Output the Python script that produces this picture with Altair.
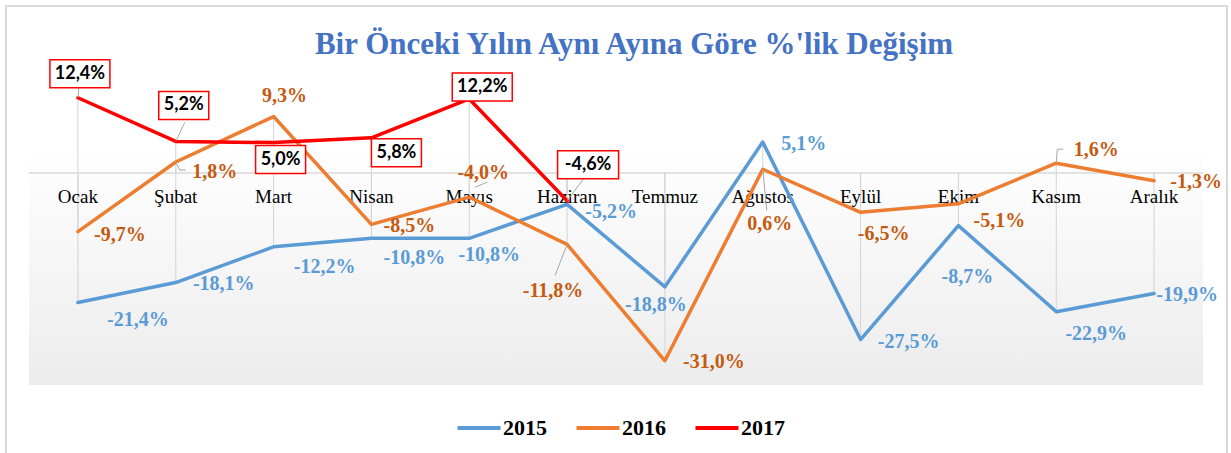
import altair as alt
import pandas as pd

months = ["Ocak", "Şubat", "Mart", "Nisan", "Mayıs", "Haziran", "Temmuz",
          "Ağustos", "Eylül", "Ekim", "Kasım", "Aralık"]
years = ["2015", "2016", "2017"]
v2015 = [-21.4, -18.1, -12.2, -10.8, -10.8, -5.2, -18.8, 5.1, -27.5, -8.7, -22.9, -19.9]
v2016 = [-9.7, 1.8, 9.3, -8.5, -4.0, -11.8, -31.0, 0.6, -6.5, -5.1, 1.6, -1.3]
v2017 = [12.4, 5.2, 5.0, 5.8, 12.2, -4.6]
title_text = "Bir Önceki Yılın Aynı Ayına Göre %'lik Değişim"

# label offsets in pixels (style)
dx2015 = [60, 48, 51, 43, 20, 44, -9, 41, 48, 9, 40, 33]
dy2015 = [17, 1, 20, 20, 17, 8, 18, 2, 2, 51, 22, 2]
dx2016 = [42, 39, 11, 38, 14, -14, 49, 7, 23, 41, 40, 42]
dy2016 = [3, 10, -21, 2, -24, 47, 1, 55, 22, 17, -13, 1]
dx2017 = [2, 8, 7, 25, 13, 21]
dy2017 = [-24, -36, 17, 15, -12, -36]
box_w2017 = [60, 50, 50, 50, 60, 61]
BOX_H = 28

line_colors = ["#5B9BD5", "#ED7D31", "#FF0000"]
label_colors = {"2015": "#5B9BD5", "2016": "#C55A11"}

W, H = 1174, 303
LEFT, TOP = 29, 82
R = 50.0
SYM_SIZE = (2 * R) ** 2

rows = []
for yr, vals, dxs, dys in [("2015", v2015, dx2015, dy2015),
                           ("2016", v2016, dx2016, dy2016),
                           ("2017", v2017, dx2017, dy2017)]:
    for i, v in enumerate(vals):
        rows.append({"month": months[i], "year": yr, "value": v,
                     "label": f"{v:.1f}".replace(".", ",") + "%",
                     "dx": dxs[i], "dy": dys[i],
                     "lcolor": label_colors.get(yr, "#000000")})
df = pd.DataFrame(rows)


def p(v):
    return f"{v / R:.4f}"


boxes = df[df.year == "2017"].copy()
shapes = []
for w, dx, dy in zip(box_w2017, dx2017, dy2017):
    x0, x1 = dx - w / 2, dx + w / 2
    y0, y1 = dy - BOX_H / 2, dy + BOX_H / 2
    shapes.append(f"M{p(x0)},{p(y0)}L{p(x1)},{p(y0)}L{p(x1)},{p(y1)}L{p(x0)},{p(y1)}Z")
boxes["shp"] = shapes

leaders = [
    ("Ocak", "2017", [(0, 0), (1, -10)]),
    ("Şubat", "2017", [(0, 0), (9, -19)]),
    ("Haziran", "2017", [(0, 0), (18, -24)]),
    ("Şubat", "2016", [(0, 0), (4, 8), (10, 8)]),
    ("Haziran", "2016", [(0, 0), (-12, 31)]),
    ("Ağustos", "2016", [(0, 0), (4, 41)]),
    ("Kasım", "2016", [(0, 0), (1, -14), (7, -14)]),
    ("Mayıs", "2016", [(6, -10), (18, -15)]),
]
lrows = []
for m, yr, pts in leaders:
    val = df[(df.month == m) & (df.year == yr)].value.iloc[0]
    path = "M" + "L".join(f"{p(a)},{p(b)}" for a, b in pts)
    lrows.append({"month": m, "value": val, "shp": path})
ldf = pd.DataFrame(lrows)

xs = alt.Scale(type="point", domain=months, padding=0.5)
ys = alt.Scale(domain=[-35, 15], nice=False, zero=False)
X = alt.X("month:N", scale=xs, axis=None)
Y = alt.Y("value:Q", scale=ys, axis=None)

one = pd.DataFrame({"value": [0.0]})

bg = alt.Chart(one).mark_rect(
    fill=alt.Gradient(gradient="linear", x1=0, x2=0, y1=0, y2=1,
                      stops=[alt.GradientStop(offset=0, color="#ffffff"),
                             alt.GradientStop(offset=0.22, color="#ffffff"),
                             alt.GradientStop(offset=1, color="#ececec")])
).encode(x=alt.value(0), x2=alt.value(W), y=alt.value(0), y2=alt.value(H))

border = alt.Chart(one).mark_rect(fill="transparent", stroke="#d9d9d9", strokeWidth=2).encode(
    x=alt.value(-23), x2=alt.value(1198), y=alt.value(-76), y2=alt.value(H + 90))

drops = alt.Chart(df).mark_rule(color="#d4d4d4", strokeWidth=1).encode(
    x=X, y=Y, y2=alt.datum(0))

zero = alt.Chart(one).mark_rule(color="#d9d9d9", strokeWidth=1.5).encode(
    x=alt.value(0), x2=alt.value(W), y=Y)

month_labels = alt.Chart(pd.DataFrame({"month": months, "value": [0.0] * 12})).mark_text(
    font="Liberation Serif", fontSize=19, color="#000000", dy=24, baseline="middle"
).encode(x=X, y=Y, text="month:N")

lines = alt.Chart(df).mark_line(strokeWidth=3.5, strokeJoin="round", strokeCap="round").encode(
    x=X, y=Y,
    color=alt.Color("year:N", scale=alt.Scale(domain=years, range=line_colors),
                    legend=alt.Legend(title=None, orient="none", legendX=426, legendY=322,
                                      direction="horizontal", symbolType="stroke",
                                      symbolSize=1850, symbolStrokeWidth=4,
                                      labelFont="Liberation Serif", labelFontSize=22,
                                      labelFontWeight="bold", labelColor="#000000",
                                      labelOffset=0, columnPadding=21)),
)

leader_marks = alt.Chart(ldf).mark_point(
    filled=False, stroke="#a6a6a6", strokeWidth=1, opacity=1, size=SYM_SIZE
).encode(x=X, y=Y, shape=alt.Shape("shp:N", scale=None))

labels = alt.Chart(df[df.year != "2017"]).mark_text(
    font="Liberation Serif", fontSize=20, fontWeight="bold", baseline="middle",
    dx=alt.ExprRef("datum.dx"), dy=alt.ExprRef("datum.dy"),
).encode(x=X, y=Y, text="label:N", color=alt.Color("lcolor:N", scale=None))

box = alt.Chart(boxes).mark_point(
    filled=True, fill="#ffffff", fillOpacity=1, stroke="#FF0000", strokeWidth=1.5,
    opacity=1, size=SYM_SIZE
).encode(x=X, y=Y, shape=alt.Shape("shp:N", scale=None))

box_text = alt.Chart(boxes).mark_text(
    font="Lato", fontSize=18, fontWeight="bold", color="#000000", baseline="middle",
    dx=alt.ExprRef("datum.dx"), dy=alt.ExprRef("datum.dy"),
).encode(x=X, y=Y, text="label:N")

title = alt.Chart(pd.DataFrame({"t": [title_text]})).mark_text(
    font="Liberation Serif", fontSize=31, fontWeight="bold", color="#4472C4", baseline="middle"
).encode(x=alt.value(634 - LEFT), y=alt.value(45 - TOP), text="t:N")

chart = alt.layer(
    border, bg, drops, zero, month_labels, lines, leader_marks, labels, box, box_text, title
).properties(
    width=W, height=H,
    autosize=alt.AutoSizeParams(type="none"),
    padding={"left": LEFT, "top": TOP, "right": 1231 - LEFT - W, "bottom": 453 - TOP - H},
    background="#ffffff",
).configure_view(stroke=None)

chart.save("out.html", embed_options={"renderer": "svg", "actions": False})
